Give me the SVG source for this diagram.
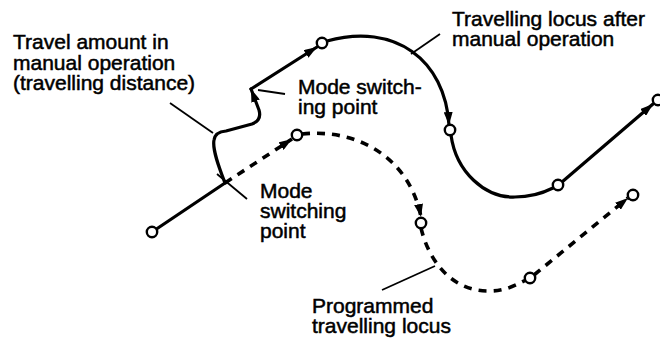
<svg xmlns="http://www.w3.org/2000/svg" width="660" height="339" viewBox="0 0 660 339">
<style>
  .lbl { font-family: "Liberation Sans", Arial, sans-serif; font-size: 21px; fill: #000; stroke: #000; stroke-width: 0.5; }
  .solid { fill: none; stroke: #000; stroke-width: 3.2; stroke-linecap: round; stroke-linejoin: round; }
  .dash { fill: none; stroke: #000; stroke-width: 3.6; stroke-dasharray: 8 7; }
  .lead { fill: none; stroke: #000; stroke-width: 1.8; }
  .pt { fill: #fff; stroke: #000; stroke-width: 2.4; }
</style>
<defs>
  <marker id="arr" markerUnits="userSpaceOnUse" viewBox="0 0 13 9" refX="13" refY="4.5" markerWidth="13" markerHeight="9" orient="auto">
    <path d="M0,0 L13,4.5 L0,9 z" fill="#000"/>
  </marker>
</defs>

<g id="connectors">
  <path class="solid" d="M152,232 L225,183"/>
  <path class="solid" d="M225,183 C220,170 212,150 214,140 Q215,132 226,131 L252,124 Q262,120 259,110 L251,89" marker-end="url(#arr)"/>
  <path class="solid" d="M251,89 L317,47" marker-end="url(#arr)"/>
  <path class="solid" d="M327,41 C395,22 445,60 449,125" marker-end="url(#arr)"/>
  <path class="solid" d="M451,135 C456,172 485,198 515,197 C532,197 545,192 553,188"/>
  <path class="solid" d="M562,182 L653,104" marker-end="url(#arr)"/>

  <path class="dash" d="M225,183 L292,139" marker-end="url(#arr)"/>
  <path class="dash" d="M302,134 C360,128 410,160 421,217" marker-end="url(#arr)"/>
  <path class="dash" d="M421,228 C428,258 450,292 490,291 C505,291 516,285 526,280"/>
  <path class="dash" d="M534,275 L628,198" marker-end="url(#arr)"/>

  <line class="lead" x1="170" y1="103" x2="213" y2="133"/>
  <line class="lead" x1="440" y1="34" x2="411" y2="54"/>
  <line class="lead" x1="258" y1="90" x2="285" y2="94"/>
  <line class="lead" x1="217" y1="174" x2="247" y2="199"/>
  <line class="lead" x1="382" y1="290" x2="435" y2="266"/>
</g>

<g id="points">
  <circle class="pt" cx="152" cy="232" r="5.2"/>
  <circle class="pt" cx="322" cy="43" r="5.2"/>
  <circle class="pt" cx="450" cy="130" r="5.2"/>
  <circle class="pt" cx="558" cy="185" r="5.2"/>
  <circle class="pt" cx="658" cy="100" r="5.2"/>
  <circle class="pt" cx="297" cy="135" r="5.2"/>
  <circle class="pt" cx="421" cy="223" r="5.2"/>
  <circle class="pt" cx="530" cy="278" r="5.2"/>
  <circle class="pt" cx="633" cy="195" r="5.2"/>
</g>

<g id="label-travel-amount">
  <text class="lbl" x="13" y="49">Travel amount in</text>
  <text class="lbl" x="13" y="69.5">manual operation</text>
  <text class="lbl" x="13" y="90">(travelling distance)</text>
</g>
<g id="label-locus-after">
  <text class="lbl" x="452" y="26">Travelling locus after</text>
  <text class="lbl" x="452" y="46">manual operation</text>
</g>
<g id="label-mode-switch-upper">
  <text class="lbl" x="298" y="94">Mode switch-</text>
  <text class="lbl" x="298" y="114">ing point</text>
</g>
<g id="label-mode-switch-lower">
  <text class="lbl" x="260" y="198">Mode</text>
  <text class="lbl" x="260" y="218">switching</text>
  <text class="lbl" x="260" y="238">point</text>
</g>
<g id="label-programmed">
  <text class="lbl" x="312" y="313">Programmed</text>
  <text class="lbl" x="312" y="333">travelling locus</text>
</g>
</svg>
